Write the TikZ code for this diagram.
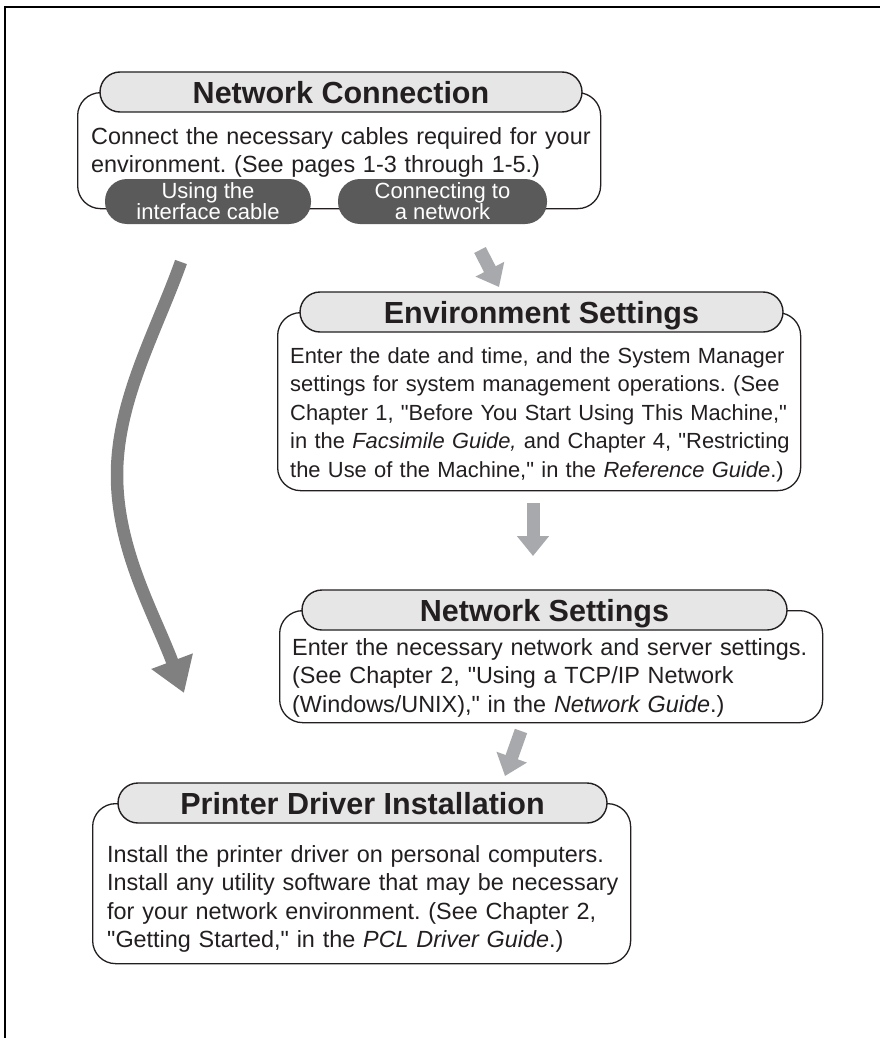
\documentclass[tikz,border=0pt]{standalone}
\usepackage{fontspec}
\setmainfont{Liberation Sans}[Ligatures=TeXOff]
\usetikzlibrary{arrows.meta,positioning}

\definecolor{inkgray}{HTML}{231F20}
\definecolor{headfill}{HTML}{E6E6E6}
\definecolor{choicefill}{HTML}{5A5A5A}
\definecolor{stepgray}{HTML}{A7A9AC}
\definecolor{skipgray}{HTML}{808080}

\tikzset{
  stepbody/.style={draw=inkgray, line width=1.3pt, rounded corners=23pt, anchor=north west, inner sep=0pt},
  stephead/.style={draw=inkgray, line width=1.4pt, fill=headfill, rounded corners=20pt, minimum height=40pt, inner sep=0pt},
  steptitle/.style={font=\fontsize{30.5}{30}\selectfont\bfseries, text=inkgray, anchor=base, inner sep=0pt},
  steptext/.style={font=\fontsize{23.4}{28.6}\selectfont, text=inkgray, anchor=north west, inner sep=0pt, align=left, text width=560pt},
  choice/.style={fill=choicefill, rounded corners=22pt, minimum height=45pt, inner sep=0pt, text=white, align=center,
    font={\fontsize{22}{21}\selectfont\lineskiplimit=-50pt}},
  stepflow/.style={draw=stepgray, line width=13pt, -{Triangle[width=31pt,length=20pt]}},
  skipflow/.style={draw=skipgray, line width=12.5pt, -{Triangle[width=42pt,length=34pt]}}
}

\begin{document}
\frenchspacing
\begin{tikzpicture}[x=1pt, y=-1pt]
  \clip (0,0) rectangle (880,1038);
  \fill[white] (0,0) rectangle (880,1038);

  % Page frame
  \draw[line width=2.6pt] (5,7) rectangle (900,1100);

  % Network Connection
  \node[stepbody, minimum width=523pt, minimum height=116pt] (netBody) at (77,92) {};
  \node[stephead, minimum width=482pt] (netHead) at (341,92) {};
  \node[steptitle] (netTitle) at (341,103) {Network Connection};
  \node[steptext] (netText) at (91,127) {Connect the necessary cables required for your\\
    environment. (See pages 1-3 through 1-5.)};
  \node[choice, minimum width=206pt] (cableChoice) at (208,201.5) {Using the\\interface cable};
  \node[choice, minimum width=209pt] (lanChoice) at (442.5,201.5) {Connecting to\\a network};

  % Environment Settings
  \node[stepbody, minimum width=523pt, minimum height=178pt] (envBody) at (277,312) {};
  \node[stephead, minimum width=483pt] (envHead) at (541.5,312) {};
  \node[steptitle] (envTitle) at (541.5,323) {Environment Settings};
  \node[steptext, font=\fontsize{21.9}{28.6}\selectfont] (envText) at (290,347) {Enter the date and time, and the System Manager\\
    settings for system management operations. (See\\
    Chapter 1, "Before You Start Using This Machine,"\\
    in the \textit{Facsimile Guide,} and Chapter 4, "Restricting\\
    the Use of the Machine," in the \textit{Reference Guide}.)};

  % Network Settings
  \node[stepbody, minimum width=543pt, minimum height=112pt] (setBody) at (279,610) {};
  \node[stephead, minimum width=485pt] (setHead) at (544.5,610) {};
  \node[steptitle] (setTitle) at (544.5,621) {Network Settings};
  \node[steptext] (setText) at (292,638) {Enter the necessary network and server settings.\\
    (See Chapter 2, "Using a TCP/IP Network\\
    (Windows/UNIX)," in the \textit{Network Guide}.)};

  % Printer Driver Installation
  \node[stepbody, minimum width=538pt, minimum height=160pt] (drvBody) at (92,803) {};
  \node[stephead, minimum width=489pt] (drvHead) at (362.5,803) {};
  \node[steptitle] (drvTitle) at (362.5,814) {Printer Driver Installation};
  \node[steptext] (drvText) at (107,845) {Install the printer driver on personal computers.\\
    Install any utility software that may be necessary\\
    for your network environment. (See Chapter 2,\\
    "Getting Started," in the \textit{PCL Driver Guide}.)};

  % Arrow ends
  \coordinate (lanOut) at (480,250);
  \coordinate (envIn) at (499,287);
  \coordinate (envOut) at (533,503);
  \coordinate (setIn) at (533,556);
  \coordinate (setOut) at (521,731);
  \coordinate (drvIn) at (505,776);
  \coordinate (cableOut) at (181,262);
  \coordinate (cableIn) at (184,693);

  % Step arrows
  \draw[stepflow] (lanOut) -- (envIn);
  \draw[stepflow] (envOut) -- (setIn);
  \draw[stepflow] (setOut) -- (drvIn);

  % Interface cable skips the network steps
  \draw[skipflow] (cableOut) .. controls (156,332) and (117,400) .. (117,475)
    .. controls (117,550) and (154,613) .. (cableIn);
\end{tikzpicture}
\end{document}
